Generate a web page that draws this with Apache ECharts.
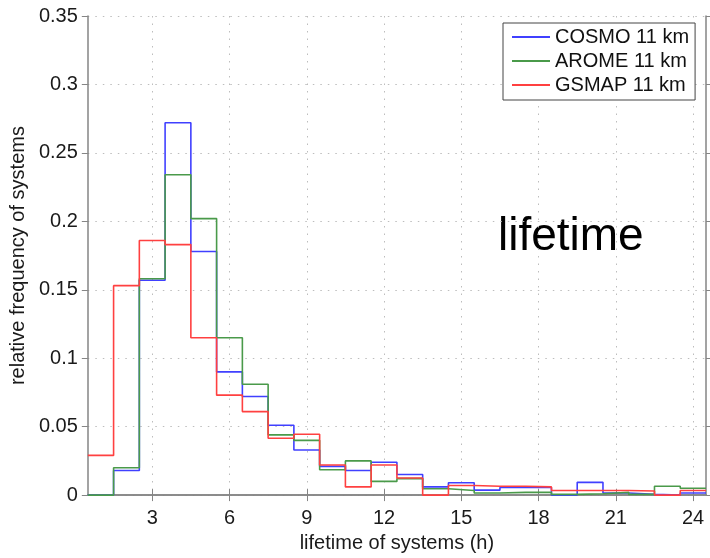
<!DOCTYPE html>
<html><head><meta charset="utf-8">
<script src="https://cdn.jsdelivr.net/npm/echarts@6/dist/echarts.min.js"></script>
<style>html,body{margin:0;padding:0;background:#fff}#c{width:710px;height:558px}</style>
</head><body><div id="c"></div>
<script>
// bin centres (h), one-hour bins
const binCentres = [1,2,3,4,5,6,7,8,9,10,11,12,13,14,15,16,17,18,19,20,21,22,23,24];
const cosmo = [0, 0.018, 0.157, 0.272, 0.178, 0.090, 0.072, 0.051, 0.033, 0.021, 0.018, 0.024, 0.015, 0.006, 0.009, 0.0036, 0.0055, 0.0055, 0, 0.0093, 0.0015, 0.0005, 0, 0.0015];
const arome = [0, 0.020, 0.158, 0.234, 0.202, 0.115, 0.081, 0.044, 0.040, 0.0185, 0.025, 0.010, 0.012, 0.0046, 0.0034, 0.0015, 0.002, 0.002, 0.0005, 0.001, 0.002, 0.0005, 0.0065, 0.005];
const gsmap = [0.029, 0.153, 0.186, 0.183, 0.115, 0.073, 0.061, 0.0415, 0.0445, 0.022, 0.006, 0.022, 0.0125, 0, 0.007, 0.0065, 0.0065, 0.006, 0.0034, 0.0034, 0.0034, 0.003, 0, 0.0034];
const xTicks = [3, 6, 9, 12, 15, 18, 21, 24];
const seriesNames = ['COSMO 11 km', 'AROME 11 km', 'GSMAP 11 km'];
const seriesColors = ['#4040ff', '#4a9a4a', '#ff4040'];

const FONT = 'Liberation Sans, Arial, Helvetica, sans-serif';
const AX = '#858585';

function steps(vals) {
  const d = binCentres.map((c, i) => [c - 0.5, vals[i]]);
  d.push([binCentres[binCentres.length - 1] + 0.5, vals[vals.length - 1]]);
  return d;
}

const chart = echarts.init(document.getElementById('c'), null, {renderer: 'canvas'});
const grid = {left: 86, right: 4, top: 16, bottom: 55};
const splitStyle = {show: true, lineStyle: {color: '#bdbdbd', width: 1, type: [1.5, 6]}};
function xAxisDef(pos, labels) {
  return {
    type: 'value', position: pos, min: 0.5, max: 24.5,
    axisLine: {show: true, lineStyle: {color: AX, width: 1.5}},
    axisTick: {show: true, inside: false, length: 6, customValues: xTicks, lineStyle: {color: AX, width: 1}},
    axisLabel: {show: labels, customValues: xTicks, margin: 13, color: '#1a1a1a', fontSize: 20, fontFamily: FONT},
    splitLine: labels ? splitStyle : {show: false},
    name: labels ? 'lifetime of systems (h)' : '',
    nameLocation: 'middle', nameGap: 35,
    nameTextStyle: {color: '#1a1a1a', fontSize: 20, fontFamily: FONT}
  };
}
function yAxisDef(pos, labels) {
  return {
    type: 'value', position: pos, min: 0, max: 0.35, interval: 0.05,
    axisLine: {show: true, lineStyle: {color: AX, width: 1.5}},
    axisTick: {show: true, inside: false, length: 6, lineStyle: {color: AX, width: 1}},
    axisLabel: {show: labels, margin: 10, color: '#1a1a1a', fontSize: 20, fontFamily: FONT},
    splitLine: labels ? splitStyle : {show: false},
    name: labels ? 'relative frequency of systems' : '',
    nameLocation: 'middle', nameGap: 50, nameRotate: 90,
    nameTextStyle: {color: '#1a1a1a', fontSize: 20, fontFamily: FONT}
  };
}
const vals = [cosmo, arome, gsmap];
chart.setOption({
  animation: false,
  backgroundColor: '#fff',
  grid: grid,
  xAxis: [xAxisDef('bottom', true), xAxisDef('top', false)],
  yAxis: [yAxisDef('left', true), yAxisDef('right', false)],
  legend: {
    orient: 'vertical', left: 503, top: 23,
    padding: [4, 6, 5, 9],
    itemWidth: 38, itemHeight: 20, itemGap: 4,
    icon: 'path://M0,0L38,0L38,2L0,2Z',
    borderColor: '#444', borderWidth: 1, backgroundColor: '#fff',
    textStyle: {color: '#111', fontSize: 20, fontFamily: FONT},
    data: seriesNames
  },
  series: seriesNames.map((n, i) => ({
    name: n, type: 'line', step: 'end', symbol: 'none', showSymbol: false,
    xAxisIndex: 0, yAxisIndex: 0,
    data: steps(vals[i]),
    lineStyle: {color: seriesColors[i], width: 1.6},
    itemStyle: {color: seriesColors[i]},
    z: 3 + i
  })),
  graphic: [{
    type: 'text', left: 498, top: 214,
    style: {text: 'lifetime', fill: '#000', font: '46px ' + FONT}
  }]
});
</script></body></html>
